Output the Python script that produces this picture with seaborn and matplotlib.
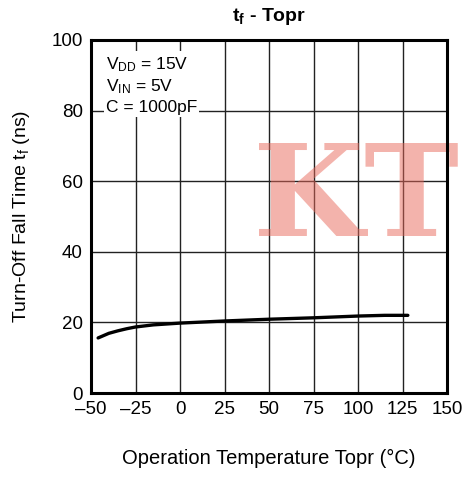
import matplotlib
matplotlib.use("Agg")
import matplotlib.pyplot as plt
import seaborn as sns
import pandas as pd

# Data
temperature = [-46, -40, -35, -30, -25, -15, 0, 25, 50, 75, 100, 115, 128]
fall_time = [15.6, 16.9, 17.6, 18.2, 18.7, 19.3, 19.8, 20.4, 20.9, 21.3, 21.8, 22.0, 22.0]
x_ticks = [-50, -25, 0, 25, 50, 75, 100, 125, 150]
x_tick_labels = ["\u201350", "\u201325", "0", "25", "50", "75", "100", "125", "150"]
y_ticks = [0, 20, 40, 60, 80, 100]
y_tick_labels = ["0", "20", "40", "60", "80", "100"]

df = pd.DataFrame({"T": temperature, "tf": fall_time})

sns.set_theme(style="white")
plt.rcParams["font.family"] = ["Liberation Sans", "DejaVu Sans"]
plt.rcParams["mathtext.default"] = "regular"
plt.rcParams["text.color"] = "black"

fig = plt.figure(figsize=(4.69, 4.79), dpi=100)
ax = fig.add_axes([91 / 469, 1 - 393 / 479, (447 - 91) / 469, (393 - 40) / 479])

# watermark
ax.text(0.745, 0.545, "KT", transform=ax.transAxes, ha="center", va="center",
        fontsize=92, fontweight="bold", family="DejaVu Serif",
        color="#e8685a", alpha=0.5, zorder=3)

sns.lineplot(data=df, x="T", y="tf", ax=ax, color="black", linewidth=2.4, zorder=4)

ax.set_xlim(-50, 150)
ax.set_ylim(0, 100)
ax.set_xticks(x_ticks)
ax.set_xticklabels(x_tick_labels)
ax.set_yticks(y_ticks)
ax.set_yticklabels(y_tick_labels)
ax.grid(True, color="#222222", linewidth=1.0)
ax.tick_params(axis="both", length=0, labelsize=13.5, colors="black", pad=6)
for s in ax.spines.values():
    s.set_color("black")
    s.set_linewidth(2.2)
    s.set_zorder(5)

ax.set_xlabel("Operation Temperature Topr (\u00b0C)", fontsize=14.5, labelpad=22, color="black")
ax.set_ylabel("Turn-Off Fall Time t$_f$ (ns)", fontsize=14, labelpad=14, color="black")
ax.set_title("t$_f$ - Topr", fontsize=14, fontweight="bold", pad=14, color="black")

ax.text(-41.8, 95.8, "V$_{DD}$ = 15V\nV$_{IN}$ = 5V\nC = 1000pF", fontsize=12.5,
        va="top", ha="left", linespacing=1.3, zorder=6, color="black",
        bbox=dict(facecolor="white", edgecolor="none", pad=1.5))

fig.savefig("out.png", dpi=100)
